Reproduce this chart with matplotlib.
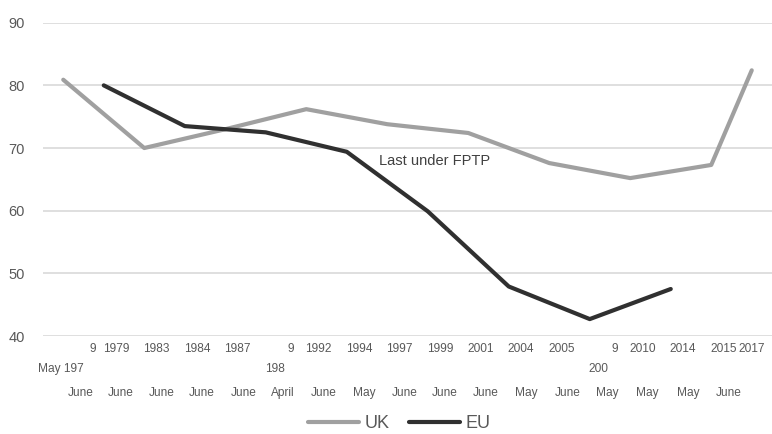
import matplotlib
matplotlib.use("Agg")
import matplotlib.pyplot as plt
import matplotlib.transforms as mtransforms
import numpy as np

# Election dates (category axis) and turnout values (%)
months = ["May", "June", "June", "June", "June", "June", "April", "June", "May",
          "June", "June", "June", "May", "June", "May", "May", "May", "June"]
years = [1979, 1979, 1983, 1984, 1987, 1989, 1992, 1994, 1997,
         1999, 2001, 2004, 2005, 2009, 2010, 2014, 2015, 2017]
uk = [80.9, None, 70.0, None, 73.0, None, 76.2, None, 73.8,
      None, 72.4, None, 67.6, None, 65.2, None, 67.3, 82.4]
eu = [None, 80.0, None, 73.5, None, 72.5, None, 69.4, None,
      59.9, None, 47.9, None, 42.7, None, 47.5, None, None]

plt.rcParams['font.family'] = ['Liberation Sans', 'DejaVu Sans']

fig = plt.figure(figsize=(7.72, 4.34), dpi=100)
ax = fig.add_axes([43 / 772, 98 / 434, 729 / 772, 313.3 / 434])

def series(vals):
    x = [i for i, v in enumerate(vals) if v is not None]
    y = [v for v in vals if v is not None]
    return x, y

ux, uy = series(uk)
ex, ey = series(eu)
ax.plot(ux, uy, color='#a0a0a0', lw=3, solid_capstyle='round', solid_joinstyle='round', label='UK', zorder=3)
ax.plot(ex, ey, color='#303030', lw=3, solid_capstyle='round', solid_joinstyle='round', label='EU', zorder=4)

ax.set_xlim(-0.5, len(years) - 0.5)
ax.set_ylim(40, 90)
ax.set_yticks([40, 50, 60, 70, 80, 90])
ax.yaxis.grid(True, color='#d9d9d9', lw=1.2)
ax.set_axisbelow(True)
ax.tick_params(axis='y', length=0, pad=13, labelsize=10.5, labelcolor='#595959')
ax.set_xticks([])
for s in ax.spines.values():
    s.set_visible(False)

# Category labels, wrapped the way the original spreadsheet drew them
trans = mtransforms.blended_transform_factory(ax.transData, ax.transAxes)
row_top, row_mid, row_bot = -0.042, -0.106, -0.181
lab = dict(transform=trans, fontsize=8.6, color='#595959', ha='center', va='center')
for j, (m, y) in enumerate(zip(months, years)):
    ys = str(y)
    if j == 0:
        ax.text(j - 0.07, row_mid, m + " " + ys[:3], **lab)
        ax.text(j + 0.72, row_top, ys[3], **lab)
    elif j in (5, 13):
        ax.text(j + 0.63, row_top, ys[3], **lab)
        ax.text(j + 0.22, row_mid, ys[:3], **lab)
        ax.text(j - 0.55, row_bot, m, **lab)
    else:
        ax.text(j + (0.0 if j == len(years) - 1 else 0.3), row_top, ys, **lab)
        ax.text(j - 0.57, row_bot, m, **lab)

ax.text(7.8, 67.9, "Last under FPTP", fontsize=10.5, color='#404040', ha='left', va='center')

fig.legend(loc='center', bbox_to_anchor=(0.517, 0.024), ncol=2, frameon=False,
           fontsize=13, labelcolor='#595959', handlelength=2.8, handletextpad=0.3,
           columnspacing=1.1, borderpad=0)

fig.savefig("out.png", dpi=100)
